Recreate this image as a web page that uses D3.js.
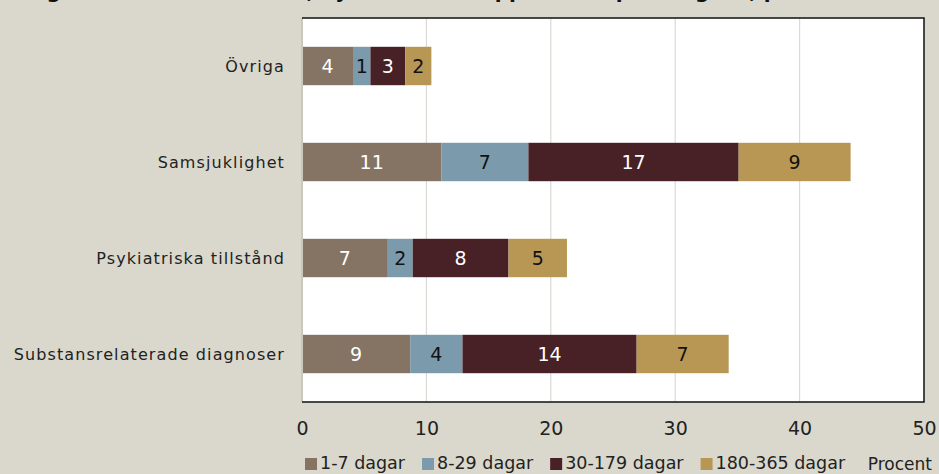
<!DOCTYPE html>
<html><head><meta charset="utf-8">
<script src="https://cdn.jsdelivr.net/npm/d3@7"></script>
<style>
html,body{margin:0;padding:0;background:#dad8cc;}
svg{display:block;}
text{font-family:"DejaVu Sans",sans-serif;}
</style></head><body>
<svg id="chart" width="939" height="474"></svg>
<script>
const title = "Figur 6. Andel utifrån tid, nya insatser i öppen vård per diagnos, procent";
const categories = ["Övriga","Samsjuklighet","Psykiatriska tillstånd","Substansrelaterade diagnoser"];
const seriesNames = ["1-7 dagar","8-29 dagar","30-179 dagar","180-365 dagar"];
const seriesColors = ["#857463","#7b9bad","#472126","#b89755"];
const labelColors = ["#ffffff","#111111","#ffffff","#111111"];
const v1_7 = [4.1, 11.2, 6.9, 8.7];
const v8_29 = [1.4, 7.0, 2.0, 4.2];
const v30_179 = [2.8, 16.9, 7.7, 14.0];
const v180_365 = [2.1, 9.0, 4.7, 7.4];
const valueLabels = [[4,1,3,2],[11,7,17,9],[7,2,8,5],[9,4,14,7]];
const xTicks = [0,10,20,30,40,50];
const unitLabel = "Procent";

const svg = d3.select("#chart");
const W = 939, H = 474;
const m = {left:302, right:15, top:18, bottom:72};
const pw = W - m.left - m.right, ph = H - m.top - m.bottom;

const seriesVals = [v1_7, v8_29, v30_179, v180_365];
const rows = categories.map((c,i)=>{const o={cat:c}; seriesNames.forEach((s,j)=>o[s]=seriesVals[j][i]); return o;});
const stack = d3.stack().keys(seriesNames)(rows);

const x = d3.scaleLinear().domain([0,50]).range([m.left, m.left+pw]);
const y = d3.scaleBand().domain(categories).range([m.top, m.top+ph]).paddingInner(0.6).paddingOuter(0.3);

// title (mostly above the visible area, as in the source image)
svg.append("text").attr("x",26).attr("y",-2).attr("font-size",20).attr("font-weight","bold")
  .attr("fill","#111").text(title);

// plot background
svg.append("rect").attr("x",m.left).attr("y",m.top).attr("width",pw).attr("height",ph).attr("fill","#ffffff");

// grid
svg.append("g").selectAll("line").data(xTicks.slice(1,-1)).join("line")
  .attr("x1",d=>x(d)).attr("x2",d=>x(d)).attr("y1",m.top).attr("y2",m.top+ph)
  .attr("stroke","#dcdad2").attr("stroke-width",1.2);

// bars
const gs = svg.append("g").selectAll("g").data(stack).join("g").attr("fill",(d,i)=>seriesColors[i]);
gs.selectAll("rect").data(d=>d).join("rect")
  .attr("x",d=>x(d[0])).attr("width",d=>x(d[1])-x(d[0]))
  .attr("y",d=>y(d.data.cat)).attr("height",y.bandwidth());

// value labels
stack.forEach((s,si)=>{
  svg.append("g").selectAll("text").data(s).join("text")
    .attr("x",d=>(x(d[0])+x(d[1]))/2).attr("y",d=>y(d.data.cat)+y.bandwidth()/2)
    .attr("dy","0.36em").attr("text-anchor","middle").attr("font-size",19)
    .attr("fill",labelColors[si])
    .text((d,i)=>valueLabels[i][si]);
});

// left axis line
svg.append("line").attr("x1",m.left).attr("x2",m.left).attr("y1",m.top).attr("y2",m.top+ph)
  .attr("stroke","#c9c7bf").attr("stroke-width",2);
// frame top/right/bottom
svg.append("path").attr("d",`M${m.left},${m.top}H${m.left+pw}V${m.top+ph}H${m.left}`)
  .attr("fill","none").attr("stroke","#111").attr("stroke-width",1.5);

// category labels
svg.append("g").selectAll("text").data(categories).join("text")
  .attr("x",285).attr("y",d=>y(d)+y.bandwidth()/2).attr("dy","0.36em")
  .attr("text-anchor","end").attr("font-size",16).attr("letter-spacing","1.1px").attr("fill","#222").text(d=>d);

// x axis
const xAxis = d3.axisBottom(x).tickValues(xTicks).tickSize(0).tickPadding(0);
const ax = svg.append("g").attr("transform",`translate(0,${m.top+ph+26})`).call(xAxis);
ax.select(".domain").remove();
ax.selectAll("text").attr("font-size",19).attr("fill","#222").attr("dy","0.36em")
  .style("font-family",'"DejaVu Sans",sans-serif');

// legend
const lg = svg.append("g");
let lx = 305;
seriesNames.forEach((s,i)=>{
  lg.append("rect").attr("x",lx).attr("y",458).attr("width",12).attr("height",12).attr("fill",seriesColors[i]);
  const t = lg.append("text").attr("x",lx+15).attr("y",469).attr("font-size",17.5).attr("fill","#222").text(s);
  lx += 15 + t.node().getComputedTextLength() + 17;
});
svg.append("text").attr("x",932).attr("y",470).attr("text-anchor","end").attr("font-size",17).attr("fill","#222").text(unitLabel);
</script>
</body></html>
